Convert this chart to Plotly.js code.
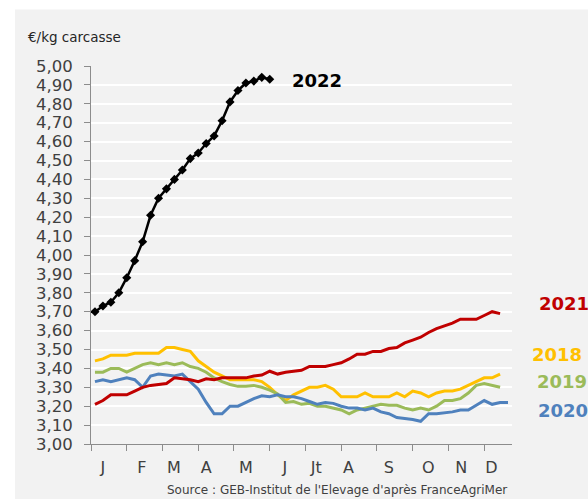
<!DOCTYPE html>
<html>
<head>
<meta charset="utf-8">
<script src="https://cdn.plot.ly/plotly-3.0.1.min.js"></script>
<style>
html,body{margin:0;padding:0;background:#ffffff;}
#chart{width:588px;height:499px;}
</style>
</head>
<body>
<div id="chart"></div>
<script>
// Weekly prices, €/kg carcasse
const months = ["J","F","M","A","M","J","Jt","A","S","O","N","D"];

const y2018 = [3.44,3.45,3.47,3.47,3.47,3.48,3.48,3.48,3.48,3.51,3.51,3.50,3.49,3.44,3.41,3.38,3.36,3.34,3.34,3.34,3.34,3.33,3.30,3.26,3.23,3.26,3.28,3.30,3.30,3.31,3.29,3.25,3.25,3.25,3.27,3.25,3.25,3.25,3.27,3.25,3.28,3.27,3.25,3.27,3.28,3.28,3.29,3.31,3.33,3.35,3.35,3.37];

const y2019 = [3.38,3.38,3.40,3.40,3.38,3.40,3.42,3.43,3.42,3.43,3.42,3.43,3.41,3.40,3.38,3.35,3.33,3.315,3.305,3.305,3.31,3.30,3.285,3.265,3.22,3.225,3.21,3.215,3.20,3.20,3.19,3.18,3.16,3.18,3.19,3.20,3.21,3.205,3.205,3.19,3.18,3.19,3.18,3.20,3.23,3.23,3.24,3.27,3.31,3.32,3.31,3.30];

const y2020 = [3.33,3.34,3.33,3.34,3.35,3.34,3.30,3.36,3.37,3.365,3.36,3.37,3.33,3.29,3.22,3.16,3.16,3.20,3.20,3.22,3.24,3.255,3.25,3.26,3.25,3.25,3.24,3.225,3.21,3.22,3.215,3.20,3.19,3.19,3.18,3.19,3.17,3.16,3.14,3.135,3.13,3.12,3.16,3.16,3.165,3.17,3.18,3.18,3.205,3.23,3.21,3.22,3.22];

const y2021 = [3.21,3.23,3.26,3.26,3.26,3.28,3.30,3.31,3.315,3.32,3.35,3.345,3.34,3.33,3.345,3.34,3.35,3.35,3.35,3.35,3.36,3.365,3.385,3.37,3.38,3.385,3.39,3.41,3.41,3.41,3.42,3.43,3.45,3.475,3.475,3.49,3.49,3.505,3.51,3.535,3.55,3.565,3.59,3.61,3.625,3.64,3.66,3.66,3.66,3.68,3.70,3.69];

const y2022 = [3.70,3.73,3.75,3.80,3.88,3.97,4.07,4.21,4.30,4.35,4.40,4.45,4.51,4.54,4.59,4.63,4.71,4.81,4.87,4.91,4.92,4.94,4.93];

const yTicks = [3.0,3.1,3.2,3.3,3.4,3.5,3.6,3.7,3.8,3.9,4.0,4.1,4.2,4.3,4.4,4.5,4.6,4.7,4.8,4.9,5.0];

// axis positions (in week units)
const monthTicks = [0.5,5,9.5,14,18.5,23,27.5,32,36.5,41,45.5,50];
const monthLabelPos = [2.0,6.9,10.95,15.0,20.0,24.9,28.85,32.9,38.0,42.95,47.1,50.9];

const wk = arr => arr.map((_, i) => i + 1);

const FONT = "DejaVu Sans, Liberation Sans, sans-serif";

function line(y, color, name) {
  return {
    type: "scatter", mode: "lines", name: name,
    x: wk(y), y: y,
    line: {color: color, width: 3},
    hoverinfo: "skip"
  };
}

const traces = [
  line(y2018, "#ffc000", "2018"),
  line(y2019, "#9bbb59", "2019"),
  line(y2020, "#4f81bd", "2020"),
  line(y2021, "#c00000", "2021"),
  {
    type: "scatter", mode: "lines+markers", name: "2022",
    x: wk(y2022), y: y2022, xaxis: "x2",
    line: {color: "#000000", width: 2.5},
    marker: {symbol: "diamond", size: 7, color: "#000000"},
    hoverinfo: "skip"
  }
];

const px2x = p => (p - 91) / 421;
const py2y = p => (444 - p) / 378;

function lab(text, color, cx, cy) {
  return {
    xref: "paper", yref: "paper", x: px2x(cx), y: py2y(cy),
    xanchor: "center", yanchor: "middle", showarrow: false,
    text: "<b>" + text + "</b>",
    font: {family: FONT, size: 18, color: color}
  };
}

const layout = {
  width: 588, height: 499,
  margin: {l: 91, r: 76, t: 66, b: 55, pad: 0},
  paper_bgcolor: "#ffffff",
  plot_bgcolor: "rgba(0,0,0,0)",
  separators: ", ",
  showlegend: false,
  font: {family: FONT, color: "#404040"},
  title: {
    text: "€/kg carcasse",
    x: 28 / 588, xref: "container", xanchor: "left",
    y: 1 - 37 / 499, yref: "container", yanchor: "middle",
    font: {family: FONT, size: 13.5, color: "#262626"}
  },
  xaxis: {
    range: [0.5, 53.5], fixedrange: true,
    tickmode: "array", tickvals: monthTicks, showticklabels: false,
    ticks: "outside", ticklen: 6, tickcolor: "#8c8c8c", tickwidth: 1,
    showline: true, linecolor: "#8c8c8c", linewidth: 1,
    showgrid: false, zeroline: false
  },
  xaxis2: {
    overlaying: "x", anchor: "y", side: "bottom",
    range: [0.5, 53.5], fixedrange: true,
    tickmode: "array", tickvals: monthLabelPos, ticktext: months,
    ticks: "", ticklabelstandoff: 12,
    tickfont: {family: FONT, size: 16, color: "#404040"},
    showline: false, showgrid: false, zeroline: false
  },
  yaxis: {
    range: [3, 5], fixedrange: true,
    tickmode: "array", tickvals: yTicks, tickformat: ".2f",
    ticks: "outside", ticklen: 6, tickcolor: "#8c8c8c", tickwidth: 1,
    ticklabelstandoff: 8,
    tickfont: {family: FONT, size: 16.5, color: "#404040"},
    showline: true, linecolor: "#8c8c8c", linewidth: 1,
    showgrid: true, gridcolor: "#ffffff", gridwidth: 2,
    zeroline: false
  },
  shapes: [{
    type: "rect", xref: "paper", yref: "paper", layer: "below",
    x0: px2x(15), x1: px2x(600), y0: py2y(510), y1: py2y(9.5),
    fillcolor: "#f2f2f2", line: {width: 0}
  }],
  annotations: [
    lab("2022", "#000000", 317, 81),
    lab("2021", "#c00000", 564, 303),
    lab("2018", "#ffc000", 557, 354),
    lab("2019", "#9bbb59", 562, 381),
    lab("2020", "#4f81bd", 563, 410),
    {
      xref: "paper", yref: "paper", x: px2x(165), y: py2y(490),
      xanchor: "left", yanchor: "middle", showarrow: false,
      text: "Source : GEB-Institut de l'Elevage d'après FranceAgriMer",
      font: {family: FONT, size: 12, color: "#404040"}
    }
  ]
};

Plotly.newPlot("chart", traces, layout, {displayModeBar: false, staticPlot: true});
</script>
</body>
</html>
